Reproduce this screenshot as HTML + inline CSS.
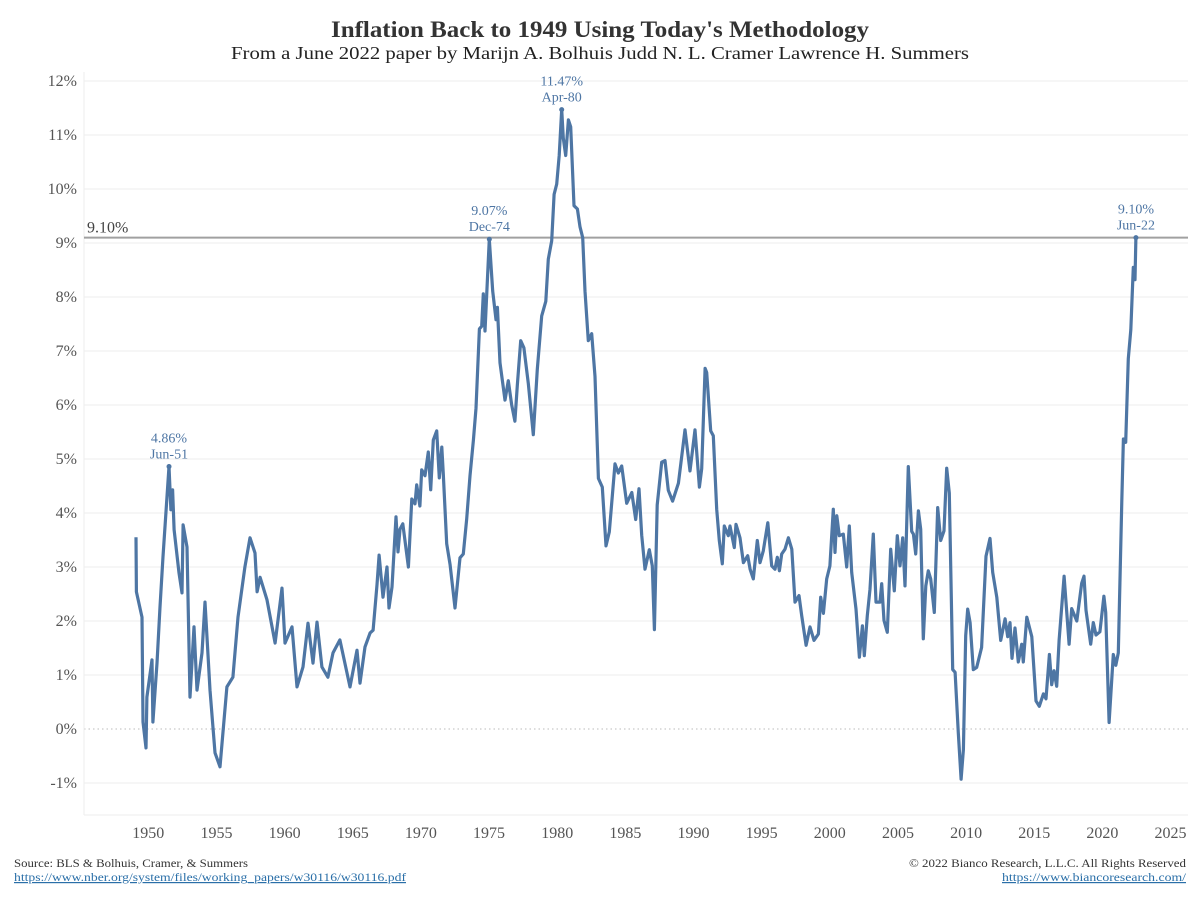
<!DOCTYPE html>
<html><head><meta charset="utf-8"><style>
body{margin:0;background:#fff;}
svg{display:block;font-family:"Liberation Serif",serif;}
</style></head><body>
<svg id="chart" width="1200" height="900" viewBox="0 0 1200 900" xmlns="http://www.w3.org/2000/svg">
<text x="331" y="37" textLength="538" lengthAdjust="spacingAndGlyphs" font-size="23" font-weight="bold" fill="#333">Inflation Back to 1949 Using Today's Methodology</text>
<text x="231" y="59" textLength="738" lengthAdjust="spacingAndGlyphs" font-size="18" fill="#222">From a June 2022 paper by Marijn A. Bolhuis Judd N. L. Cramer Lawrence H. Summers</text>
<g id="grid"></g>
<g id="yaxis"></g>
<g id="xaxis"></g>
<g id="ref"></g>
<g id="series"></g>
<g id="ann"></g>
<text x="14" y="867" textLength="234" lengthAdjust="spacingAndGlyphs" font-size="12" fill="#333">Source: BLS &amp; Bolhuis, Cramer, &amp; Summers</text>
<text x="14" y="881" textLength="392" lengthAdjust="spacingAndGlyphs" font-size="12" fill="#2a6fa8" text-decoration="underline">https://www.nber.org/system/files/working_papers/w30116/w30116.pdf</text>
<text x="909" y="867" textLength="277" lengthAdjust="spacingAndGlyphs" font-size="12" fill="#333">© 2022 Bianco Research, L.L.C. All Rights Reserved</text>
<text x="1002" y="881" textLength="184" lengthAdjust="spacingAndGlyphs" font-size="12" fill="#2a6fa8" text-decoration="underline">https://www.biancoresearch.com/</text>
</svg>
<script>
const years=[1949.10,1949.13,1949.54,1949.61,1949.83,1949.90,1950.27,1950.34,1950.64,1950.86,1951.08,1951.52,1951.66,1951.78,1951.89,1952.25,1952.47,1952.55,1952.84,1953.06,1953.35,1953.57,1953.94,1954.16,1954.53,1954.89,1955.26,1955.77,1956.21,1956.58,1957.09,1957.46,1957.83,1957.98,1958.20,1958.71,1959.30,1959.81,1960.03,1960.54,1960.91,1961.35,1961.72,1962.08,1962.38,1962.74,1963.18,1963.55,1964.06,1964.80,1965.31,1965.53,1965.90,1966.27,1966.49,1966.78,1966.93,1967.22,1967.51,1967.66,1967.88,1968.17,1968.32,1968.47,1968.67,1969.08,1969.33,1969.57,1969.69,1969.93,1970.06,1970.30,1970.54,1970.72,1970.91,1971.16,1971.35,1971.53,1971.64,1971.89,1972.14,1972.50,1972.87,1973.11,1973.36,1973.60,1973.85,1974.04,1974.29,1974.46,1974.58,1974.70,1975.02,1975.27,1975.51,1975.61,1975.80,1976.17,1976.41,1976.66,1976.90,1977.07,1977.32,1977.56,1977.88,1978.25,1978.54,1978.86,1979.16,1979.35,1979.60,1979.77,1979.96,1980.15,1980.33,1980.45,1980.62,1980.82,1980.99,1981.23,1981.48,1981.67,1981.87,1982.04,1982.28,1982.53,1982.77,1983.02,1983.31,1983.58,1983.82,1984.24,1984.48,1984.73,1985.10,1985.47,1985.76,1986.00,1986.20,1986.44,1986.76,1986.98,1987.13,1987.34,1987.67,1987.91,1988.15,1988.47,1988.89,1989.38,1989.74,1990.11,1990.43,1990.60,1990.85,1990.97,1991.26,1991.45,1991.70,1991.89,1992.11,1992.26,1992.55,1992.68,1992.99,1993.12,1993.41,1993.66,1993.98,1994.15,1994.39,1994.68,1994.88,1995.12,1995.45,1995.74,1995.98,1996.15,1996.30,1996.47,1996.71,1996.96,1997.21,1997.45,1997.74,1997.94,1998.26,1998.55,1998.84,1999.16,1999.33,1999.53,1999.77,2000.01,2000.26,2000.38,2000.51,2000.70,2000.99,2001.24,2001.43,2001.61,2001.92,2002.17,2002.39,2002.53,2002.75,2002.95,2003.19,2003.39,2003.68,2003.81,2003.98,2004.22,2004.47,2004.73,2004.95,2005.15,2005.35,2005.52,2005.76,2006.01,2006.13,2006.30,2006.50,2006.67,2006.86,2007.04,2007.23,2007.40,2007.67,2007.92,2008.14,2008.38,2008.58,2008.77,2009.02,2009.19,2009.43,2009.63,2009.80,2009.97,2010.12,2010.29,2010.53,2010.78,2011.14,2011.46,2011.75,2011.95,2012.25,2012.54,2012.86,2013.05,2013.22,2013.37,2013.59,2013.83,2014.08,2014.20,2014.45,2014.82,2015.13,2015.37,2015.67,2015.86,2016.11,2016.28,2016.45,2016.65,2016.82,2017.19,2017.56,2017.75,2018.12,2018.48,2018.65,2018.80,2019.14,2019.33,2019.53,2019.82,2020.11,2020.24,2020.49,2020.80,2020.98,2021.17,2021.42,2021.54,2021.71,2021.90,2022.08,2022.27,2022.39,2022.46];
const inflation=[3.55,2.54,2.07,0.13,-0.35,0.59,1.28,0.13,1.22,2.26,3.19,4.86,4.06,4.43,3.69,2.89,2.52,3.78,3.37,0.59,1.89,0.72,1.41,2.35,0.72,-0.44,-0.70,0.78,0.96,2.07,3.00,3.54,3.26,2.54,2.81,2.39,1.59,2.61,1.59,1.89,0.78,1.15,1.96,1.22,1.98,1.15,0.96,1.41,1.65,0.78,1.46,0.85,1.52,1.78,1.83,2.67,3.22,2.44,3.00,2.24,2.63,3.93,3.28,3.70,3.80,3.00,4.26,4.17,4.52,4.13,4.80,4.69,5.13,4.43,5.35,5.52,4.65,5.22,4.72,3.43,3.04,2.24,3.17,3.24,3.89,4.69,5.35,5.94,7.41,7.46,8.06,7.37,9.07,8.11,7.58,7.81,6.78,6.09,6.45,6.00,5.70,6.36,7.19,7.06,6.40,5.45,6.66,7.65,7.92,8.70,9.04,9.90,10.09,10.62,11.47,10.94,10.62,11.28,11.15,9.69,9.63,9.30,9.10,8.11,7.19,7.32,6.53,4.64,4.48,3.39,3.65,4.91,4.74,4.87,4.18,4.38,3.88,4.45,3.59,2.96,3.32,3.02,1.84,4.15,4.94,4.97,4.42,4.22,4.55,5.54,4.78,5.54,4.48,4.82,6.68,6.60,5.52,5.43,4.07,3.49,3.06,3.76,3.58,3.76,3.36,3.79,3.54,3.08,3.21,2.96,2.78,3.49,3.08,3.30,3.82,3.02,2.96,3.18,2.93,3.24,3.33,3.54,3.33,2.35,2.47,2.10,1.55,1.89,1.64,1.76,2.44,2.14,2.78,3.02,4.07,3.27,3.95,3.58,3.61,3.00,3.76,2.90,2.22,1.33,1.91,1.36,2.10,2.59,3.61,2.35,2.35,2.69,2.01,1.79,3.33,2.56,3.58,3.02,3.54,2.65,4.86,3.66,3.61,3.24,4.04,3.70,1.67,2.65,2.93,2.78,2.16,4.10,3.49,3.67,4.83,4.37,1.10,1.05,-0.07,-0.93,-0.38,1.73,2.22,1.97,1.10,1.14,1.51,3.20,3.53,2.90,2.44,1.64,2.04,1.71,1.97,1.31,1.87,1.24,1.57,1.24,2.07,1.71,0.52,0.42,0.65,0.56,1.38,0.82,1.08,0.79,1.64,2.83,1.57,2.23,2.00,2.70,2.83,2.20,1.57,1.97,1.74,1.80,2.46,2.16,0.12,1.38,1.18,1.41,4.22,5.37,5.31,6.86,7.39,8.55,8.32,9.10];
const yTicks=[-1,0,1,2,3,4,5,6,7,8,9,10,11,12];
const xTicks=[1950,1955,1960,1965,1970,1975,1980,1985,1990,1995,2000,2005,2010,2015,2020,2025];
const refValue=9.10;
const peakLabels=[["4.86%","Jun-51",1951.52,4.86],["9.07%","Dec-74",1975.02,9.07],["11.47%","Apr-80",1980.33,11.47],["9.10%","Jun-22",2022.46,9.10]];

const NS="http://www.w3.org/2000/svg";
const L=84,R=1188,T=72,B=815;
const xS=y=>148.3+(y-1950)*13.63;
const yS=v=>729-v*54;
function mk(tag,parent,attrs){const e=document.createElementNS(NS,tag);for(const k in attrs)e.setAttribute(k,attrs[k]);document.getElementById(parent).appendChild(e);return e;}

yTicks.forEach(t=>{
  const g=mk('line','grid',{x1:L,x2:R,y1:yS(t),y2:yS(t),stroke:t===0?'#bbb':'#eee','stroke-width':1,'stroke-dasharray':t===0?'1.5,3':'none'});
  
  
  const tx=mk('text','yaxis',{x:77,y:yS(t)+5,'text-anchor':'end','font-size':16,fill:'#555'});
  tx.textContent=t+'%';
  
  
});
const ax=mk('line','grid',{x1:L,x2:L,y1:T,y2:B,stroke:'#eee','stroke-width':1});


const bx=mk('line','grid',{x1:L,x2:R,y1:B,y2:B,stroke:'#eee','stroke-width':1});


xTicks.forEach(t=>{
  const tx=mk('text','xaxis',{x:xS(t),y:838,'text-anchor':'middle','font-size':16,fill:'#555'});
  tx.textContent=t;
  
  
});
const rl=mk('line','ref',{x1:L,x2:R,y1:yS(refValue),y2:yS(refValue),stroke:'#a0a0a0','stroke-width':2});


const rt=mk('text','ref',{x:87,y:yS(refValue)-5,'font-size':16,fill:'#444'});
rt.textContent=refValue.toFixed(2)+'%';



const d=years.map((y,i)=>(i?'L':'M')+xS(y).toFixed(1)+','+yS(inflation[i]).toFixed(1)).join('');
const p=mk('path','series',{d:d,fill:'none',stroke:'#4e76a4','stroke-width':3.2,'stroke-linejoin':'round'});



peakLabels.forEach(a=>{
  const x=xS(a[2]),y=yS(a[3]);
  const c=mk('circle','ann',{cx:x,cy:y,r:2.5,fill:'#4e76a4'});
  
  
  const t1=mk('text','ann',{x:x,y:y-24,'text-anchor':'middle','font-size':14,fill:'#4e76a4'});
  t1.textContent=a[0];
  
  
  const t2=mk('text','ann',{x:x,y:y-8,'text-anchor':'middle','font-size':14,fill:'#4e76a4'});
  t2.textContent=a[1];
  
  
});
</script>
</body></html>
